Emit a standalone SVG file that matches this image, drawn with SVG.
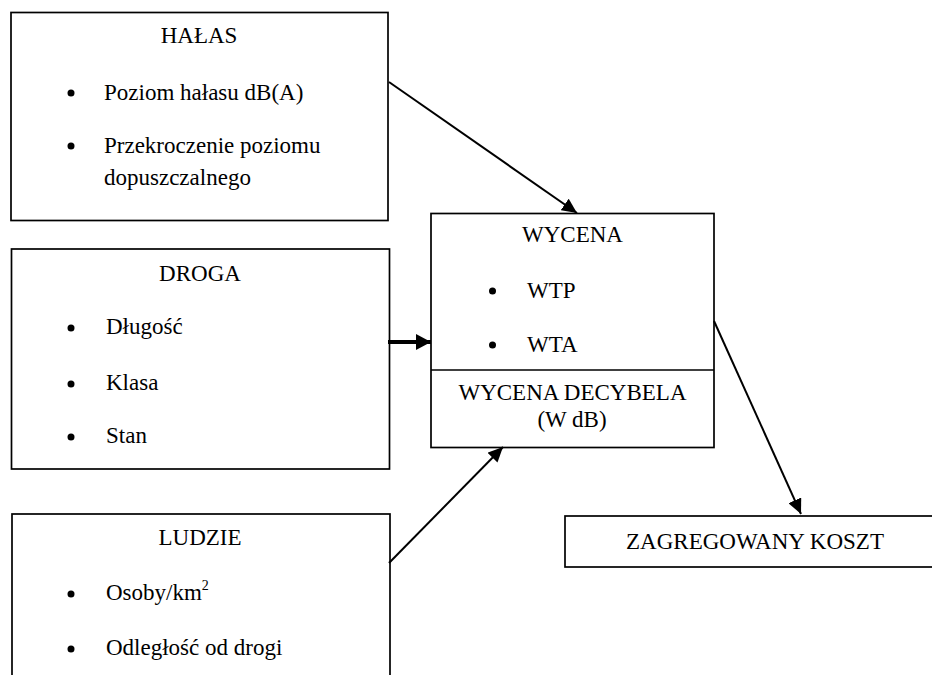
<svg xmlns="http://www.w3.org/2000/svg" width="932" height="675" viewBox="0 0 932 675" font-family="Liberation Serif, Times New Roman, serif">
<defs>
<style>
.box{fill:#fff;stroke:#000;stroke-width:1.7}
.t{font-size:23px;fill:#000}
.c{text-anchor:middle}
.b{fill:#000}
.ln{stroke:#000;stroke-width:2;fill:none}
.lnb{stroke:#000;stroke-width:4;fill:none}
</style>
<marker id="ah" markerUnits="userSpaceOnUse" markerWidth="16" markerHeight="14" refX="15" refY="7" orient="auto">
<path d="M0,0 L15,7 L0,14 Z" fill="#000"/>
</marker>
<marker id="ahb" markerUnits="userSpaceOnUse" markerWidth="16" markerHeight="16" refX="15" refY="8" orient="auto">
<path d="M0,0 L15,8 L0,16 Z" fill="#000"/>
</marker>
</defs>
<rect width="932" height="675" fill="#fff"/>

<g id="halas">
<rect class="box" x="11" y="12.5" width="377" height="208"/>
<text class="t c" x="199" y="43">HAŁAS</text>
<circle class="b" cx="71" cy="93" r="3.5"/>
<text class="t" x="104" y="100">Poziom hałasu dB(A)</text>
<circle class="b" cx="71" cy="146" r="3.5"/>
<text class="t" x="104" y="153">Przekroczenie poziomu</text>
<text class="t" x="104" y="185">dopuszczalnego</text>
</g>

<g id="droga">
<rect class="box" x="11.5" y="249" width="378" height="220"/>
<text class="t c" x="200" y="281">DROGA</text>
<circle class="b" cx="71" cy="328" r="3.5"/>
<text class="t" x="106" y="334">Długość</text>
<circle class="b" cx="71" cy="384" r="3.5"/>
<text class="t" x="106" y="390">Klasa</text>
<circle class="b" cx="71" cy="437" r="3.5"/>
<text class="t" x="106" y="443">Stan</text>
</g>

<g id="ludzie">
<rect class="box" x="12" y="514" width="378" height="180"/>
<text class="t c" x="200" y="545">LUDZIE</text>
<circle class="b" cx="71" cy="594" r="3.5"/>
<text class="t" x="106" y="600">Osoby/km<tspan font-size="14" dy="-10">2</tspan></text>
<circle class="b" cx="71" cy="649" r="3.5"/>
<text class="t" x="106" y="655">Odległość od drogi</text>
</g>

<g id="wycena">
<rect class="box" x="431" y="213.5" width="283" height="234"/>
<line x1="431" y1="370" x2="714" y2="370" stroke="#000" stroke-width="1.7"/>
<text class="t c" x="572.5" y="242">WYCENA</text>
<circle class="b" cx="492.5" cy="291" r="3.5"/>
<text class="t" x="527" y="298">WTP</text>
<circle class="b" cx="492.5" cy="345" r="3.5"/>
<text class="t" x="527" y="352">WTA</text>
<text class="t c" x="572.5" y="400">WYCENA DECYBELA</text>
<text class="t c" x="572" y="427" font-size="20">(W dB)</text>
</g>

<g id="koszt">
<rect class="box" x="565" y="516" width="380" height="51"/>
<text class="t c" x="755" y="549">ZAGREGOWANY KOSZT</text>
</g>

<g id="connectors">
<line class="ln" x1="389" y1="82" x2="577" y2="213" marker-end="url(#ah)"/>
<line class="lnb" x1="388" y1="342" x2="431" y2="342" marker-end="url(#ahb)"/>
<line class="ln" x1="389" y1="563" x2="503" y2="447" marker-end="url(#ah)"/>
<line class="ln" x1="714" y1="321" x2="801" y2="514" marker-end="url(#ah)"/>
</g>
</svg>
